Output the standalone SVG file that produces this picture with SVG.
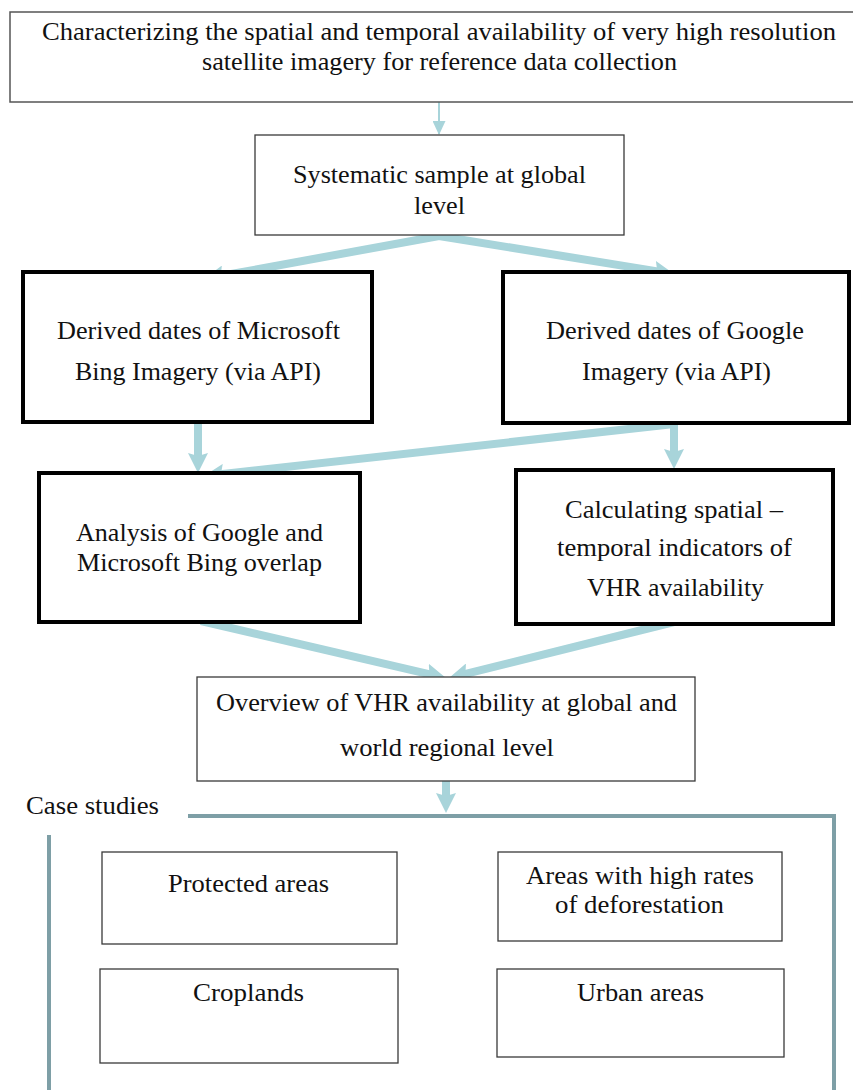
<svg xmlns="http://www.w3.org/2000/svg" width="853" height="1090" viewBox="0 0 853 1090">
<style>
.t{font-family:"Liberation Serif","Times New Roman",serif;font-size:26px;fill:#111;text-anchor:middle}
.thin{fill:#fff;stroke:#3a3a3a;stroke-width:1.3}
.thick{fill:#fff;stroke:#000;stroke-width:4}
.arr{stroke:#a8d4da;stroke-width:8;fill:none;marker-end:url(#ah)}
.frame{stroke:#7e9fa6;stroke-width:4;fill:none}
</style>
<defs>
<marker id="ah" markerUnits="userSpaceOnUse" viewBox="0 0 20 20" markerWidth="20" markerHeight="20" refX="8" refY="10" orient="auto">
<path d="M0,0 L20,10 L0,20 L3,10 z" fill="#a8d4da"/>
</marker>
<marker id="ahs" markerUnits="userSpaceOnUse" viewBox="0 0 14 13" markerWidth="14" markerHeight="13" refX="13" refY="6.5" orient="auto">
<path d="M0,0 L14,6.5 L0,13 z" fill="#a8d4da"/>
</marker>
</defs>
<rect width="853" height="1090" fill="#fff"/>
<g id="connectors">
<line x1="439" y1="102" x2="439" y2="134" stroke="#a8d4da" stroke-width="2" marker-end="url(#ahs)"/>
<line class="arr" x1="439" y1="236" x2="215.8" y2="276.8"/>
<line class="arr" x1="439" y1="236" x2="662.2" y2="272.1"/>
<line class="arr" x1="198" y1="423" x2="198" y2="461"/>
<line class="arr" x1="674" y1="424" x2="674" y2="457"/>
<line class="arr" x1="674" y1="424" x2="215.9" y2="474.7"/>
<line class="arr" x1="201" y1="621" x2="434.3" y2="675.3"/>
<line class="arr" x1="674" y1="622" x2="460.6" y2="675.1"/>
<line class="arr" x1="446" y1="781" x2="446" y2="801"/>
</g>
<g id="top">
<rect x="10" y="12" width="850" height="90" fill="#fff" stroke="#555" stroke-width="1.5"/>
<text class="t" x="439" y="40" font-size="23" textLength="794" lengthAdjust="spacingAndGlyphs">Characterizing the spatial and temporal availability of very high resolution</text>
<text class="t" x="439.5" y="70" font-size="23" textLength="475" lengthAdjust="spacingAndGlyphs">satellite imagery for reference data collection</text>
</g>
<g id="systematic">
<rect class="thin" x="255" y="135" width="369" height="100"/>
<text class="t" x="439.5" y="183" textLength="293" lengthAdjust="spacingAndGlyphs">Systematic sample at global</text>
<text class="t" x="439.5" y="214" textLength="51" lengthAdjust="spacingAndGlyphs">level</text>
</g>
<g id="bing">
<rect class="thick" x="23" y="272" width="349" height="150"/>
<text class="t" x="198.5" y="339" textLength="283" lengthAdjust="spacingAndGlyphs">Derived dates of Microsoft</text>
<text class="t" x="198" y="380" textLength="246" lengthAdjust="spacingAndGlyphs">Bing Imagery (via API)</text>
</g>
<g id="google">
<rect class="thick" x="503" y="272" width="346" height="151"/>
<text class="t" x="675" y="339" textLength="258" lengthAdjust="spacingAndGlyphs">Derived dates of Google</text>
<text class="t" x="676.5" y="380" textLength="189" lengthAdjust="spacingAndGlyphs">Imagery (via API)</text>
</g>
<g id="analysis">
<rect class="thick" x="39" y="473" width="321" height="149"/>
<text class="t" x="199.5" y="541" textLength="247" lengthAdjust="spacingAndGlyphs">Analysis of Google and</text>
<text class="t" x="199.5" y="571" textLength="245" lengthAdjust="spacingAndGlyphs">Microsoft Bing overlap</text>
</g>
<g id="calculating">
<rect class="thick" x="516" y="470" width="317" height="154"/>
<text class="t" x="674" y="518" textLength="218" lengthAdjust="spacingAndGlyphs">Calculating spatial –</text>
<text class="t" x="674.5" y="556" textLength="235" lengthAdjust="spacingAndGlyphs">temporal indicators of</text>
<text class="t" x="675.5" y="596" textLength="177" lengthAdjust="spacingAndGlyphs">VHR availability</text>
</g>
<g id="overview">
<rect class="thin" x="197" y="677" width="498" height="104"/>
<text class="t" x="446.5" y="711" textLength="461" lengthAdjust="spacingAndGlyphs">Overview of VHR availability at global and</text>
<text class="t" x="447" y="756" textLength="214" lengthAdjust="spacingAndGlyphs">world regional level</text>
</g>
<g id="case-studies">
<text class="t" x="92.5" y="814" textLength="133" lengthAdjust="spacingAndGlyphs">Case studies</text>
<polyline class="frame" points="188,816 834,816 834,1092"/>
<line class="frame" x1="49" y1="835" x2="49" y2="1092"/>
</g>
<g id="protected">
<rect class="thin" x="102" y="852" width="295" height="92"/>
<text class="t" x="248.5" y="892" textLength="161" lengthAdjust="spacingAndGlyphs">Protected areas</text>
</g>
<g id="deforestation">
<rect class="thin" x="498" y="852" width="284" height="89"/>
<text class="t" x="640" y="884" textLength="228" lengthAdjust="spacingAndGlyphs">Areas with high rates</text>
<text class="t" x="639.5" y="913" textLength="169" lengthAdjust="spacingAndGlyphs">of deforestation</text>
</g>
<g id="croplands">
<rect class="thin" x="100" y="969" width="298" height="94"/>
<text class="t" x="248.5" y="1001" textLength="111" lengthAdjust="spacingAndGlyphs">Croplands</text>
</g>
<g id="urban">
<rect class="thin" x="497" y="969" width="287" height="88"/>
<text class="t" x="640.5" y="1001" textLength="127" lengthAdjust="spacingAndGlyphs">Urban areas</text>
</g>
</svg>
